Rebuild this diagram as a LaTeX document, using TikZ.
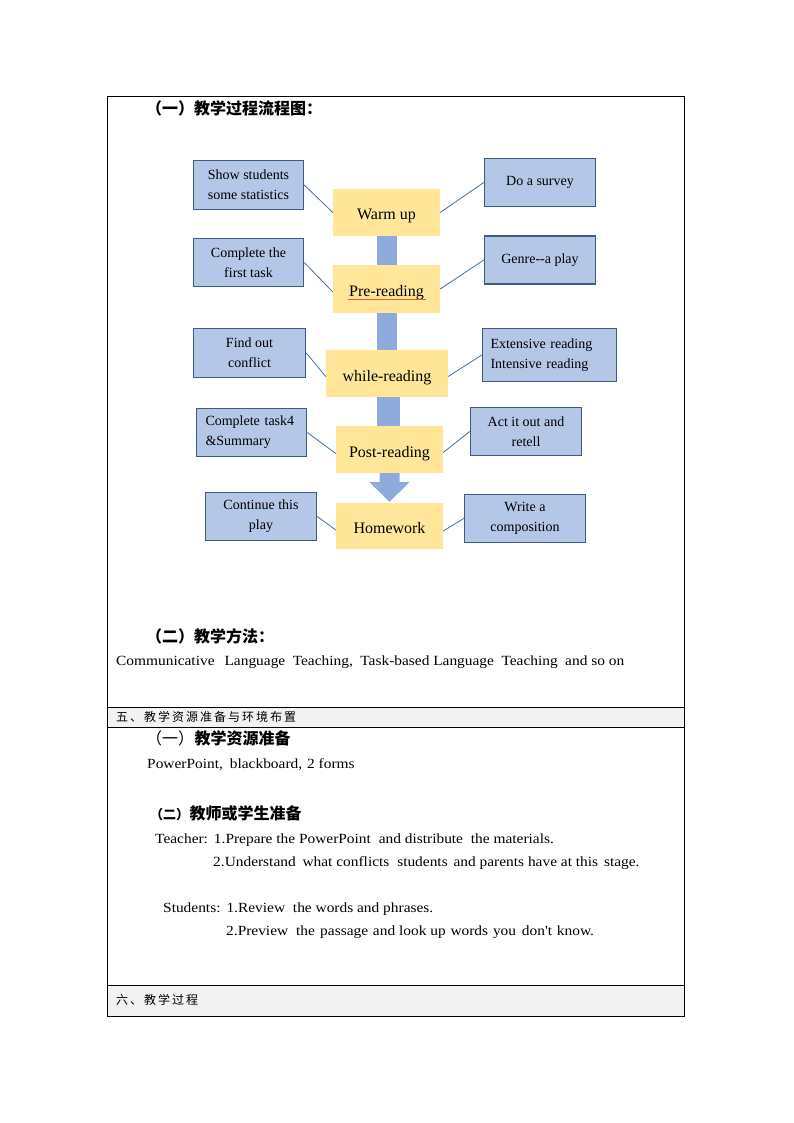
\documentclass[tikz,border=0pt]{standalone}
\usepackage{fontspec}
\setmainfont{Liberation Serif}
\newfontfamily\wideserif[FakeStretch=1.1]{Liberation Serif}
\newfontfamily\cjk{Noto Sans CJK SC}
\usetikzlibrary{calc}
\definecolor{boxblue}{HTML}{B4C7E7}
\definecolor{boxedge}{HTML}{3F5B84}
\definecolor{stepyellow}{HTML}{FFE699}
\definecolor{barblue}{HTML}{8FAADC}
\definecolor{linkblue}{HTML}{41719C}
\definecolor{rowgray}{HTML}{F2F2F2}
\definecolor{squiggle}{HTML}{E0602A}
\begin{document}
\begin{tikzpicture}[x=1pt,y=-1pt,
  bluebox/.style={draw=boxedge, line width=1.5pt, fill=boxblue, inner sep=0pt, align=center,
    font=\fontsize{14}{20}\selectfont},
  stepbox/.style={fill=stepyellow, inner sep=0pt, align=center, text height=15pt, text depth=0pt,
    font=\fontsize{16}{20}\selectfont},
  link/.style={draw=linkblue, line width=0.8pt},
  bar/.style={fill=barblue},
  body/.style={anchor=base west, inner sep=0pt, font=\wideserif\fontsize{14}{18}\selectfont},
  cjkhead/.style={anchor=base west, inner sep=0pt, font=\cjk\bfseries\fontsize{16}{18}\selectfont},
  cjkrow/.style={anchor=base west, inner sep=0pt, font=\cjk\fontsize{12}{14}\selectfont},
  frame/.style={draw=black, line width=0.9pt}
]
\useasboundingbox (0,0) rectangle (794,1123);
\fill[white] (0,0) rectangle (794,1123);

% table
\fill[rowgray] (107,707) rectangle (684,727);
\fill[rowgray] (107,985) rectangle (684,1016);
\draw[frame] (107,96) rectangle (684,1016);
\draw[frame] (107,707) -- (684,707);
\draw[frame] (107,727) -- (684,727);
\draw[frame] (107,985) -- (684,985);

% headings and text
\node[cjkhead] (h1) at (146,115) {（一）教学过程流程图：};
\node[cjkhead] (h2) at (146,642) {（二）教学方法：};
\node[body] (t1) at (116,665) {Communicative\hspace{10pt}Language\hspace{7.5pt}Teaching,\hspace{7.5pt}Task-based Language\hspace{7.5pt}Teaching\hspace{7.5pt}and so on};
\node[cjkrow] (r1) at (116,721.5) {五\kern2pt、\kern2pt 教\kern2pt 学\kern2pt 资\kern2pt 源\kern2pt 准\kern2pt 备\kern2pt 与\kern2pt 环\kern2pt 境\kern2pt 布\kern2pt 置};
\node[cjkhead, font=\cjk\fontsize{16}{18}\selectfont] (h3a) at (146,744) {（一）};
\node[cjkhead] (h3) at (h3a.base east) {教学资源准备};
\node[cjkhead, font=\cjk\bfseries\fontsize{13}{18}\selectfont] (h4a) at (150,819) {（二）};
\node[cjkhead] (h4) at (h4a.base east) {教师或学生准备};
\node[body] (t2) at (147,768) {PowerPoint,\hspace{7pt}blackboard,\hspace{5pt}2 forms};
\node[body] (t3) at (155,843) {Teacher:\hspace{6pt}1.Prepare the PowerPoint\hspace{4pt} and distribute\hspace{4pt} the materials.};
\node[body] (t4) at (213,866) {2.Understand\hspace{3pt} what conflicts\hspace{4pt} students\hspace{2pt} and parents have at this\hspace{2pt} stage.};
\node[body] (t5) at (163,912) {Students:\hspace{6pt}1.Review\hspace{4pt} the words and phrases.};
\node[body] (t6) at (226,935) {2.Preview\hspace{4pt} the\hspace{1.5pt} passage\hspace{1pt} and look up\hspace{1pt} words\hspace{1pt} you\hspace{2pt} don't\hspace{1pt} know.};
\node[cjkrow] (r2) at (116,1004.5) {六\kern2pt、\kern2pt 教\kern2pt 学\kern2pt 过\kern2pt 程};

% flow chart: central steps
\node[stepbox, minimum width=107pt, minimum height=47pt] (warm) at (386.5,212.5) {Warm up};
\node[stepbox, minimum width=107pt, minimum height=48pt] (pre) at (386.5,289) {Pre-reading};
\node[stepbox, minimum width=122pt, minimum height=47pt] (while) at (387,373.5) {while-reading};
\node[stepbox, minimum width=107pt, minimum height=47pt] (post) at (389.5,449.5) {Post-reading};
\node[stepbox, minimum width=107pt, minimum height=46pt] (home) at (389.5,526) {Homework};

% bars between steps
\fill[bar] ($(warm.south)+(-10,0)$) rectangle ($(pre.north)+(10,0)$);
\fill[bar] ($(pre.south)+(-10,0)$) rectangle ($(while.north)+(10,0)$);
\fill[bar] ($(while.south)+(-10,0)$) rectangle ($(post.north)+(10,0)$);
\fill[bar] ($(post.south)+(-10,0)$) -- ($(post.south)+(10,0)$) -- ($(post.south)+(10,9)$)
  -- ($(post.south)+(20,9)$) -- ($(home.north)+(0,-1)$) -- ($(post.south)+(-20,9)$)
  -- ($(post.south)+(-10,9)$) -- cycle;

% spell-check underline under Pre-reading
\draw[squiggle, line width=0.8pt] ($(pre.center)+(-39,10)$) -- ($(pre.center)+(39,10)$);

% side boxes
\node[bluebox, minimum width=110pt, minimum height=49pt] (show) at (248.5,185) {Show students\\some statistics};
\node[bluebox, minimum width=111pt, minimum height=48pt] (survey) at (540,182.5) {Do a survey};
\node[bluebox, minimum width=110pt, minimum height=48pt] (first) at (248.5,262.5) {Complete the\\first task};
\node[bluebox, minimum width=111pt, minimum height=48pt] (genre) at (540,260) {Genre{-}{-}a play};
\node[bluebox, minimum width=112pt, minimum height=49pt] (find) at (249.5,353) {Find out\\conflict};
\node[bluebox, minimum width=134pt, minimum height=53pt, text width=118pt, align=left] (ext) at (549.5,355) {Extensive reading\\Intensive reading};
\node[bluebox, minimum width=110pt, minimum height=48pt, text width=92pt, align=left] (task4) at (251.5,432.5) {Complete task4\\\&Summary};
\node[bluebox, minimum width=111pt, minimum height=48pt] (act) at (526,431.5) {Act it out and\\retell};
\node[bluebox, minimum width=111pt, minimum height=48pt] (cont) at (261,516.5) {Continue this\\play};
\node[bluebox, minimum width=121pt, minimum height=48pt] (write) at (525,518.5) {Write a\\composition};

% connectors
\draw[link] (show.east) -- (warm.west);
\draw[link] (warm.east) -- (survey.west);
\draw[link] (first.east) -- ($(pre.west)+(0,3)$);
\draw[link] (pre.east) -- (genre.west);
\draw[link] (find.east) -- ($(while.west)+(0,3)$);
\draw[link] ($(while.east)+(0,3)$) -- (ext.west);
\draw[link] (task4.east) -- ($(post.west)+(0,4)$);
\draw[link] ($(post.east)+(0,3)$) -- (act.west);
\draw[link] (cont.east) -- ($(home.west)+(0,4)$);
\draw[link] ($(home.east)+(0,5)$) -- (write.west);
\end{tikzpicture}
\end{document}
